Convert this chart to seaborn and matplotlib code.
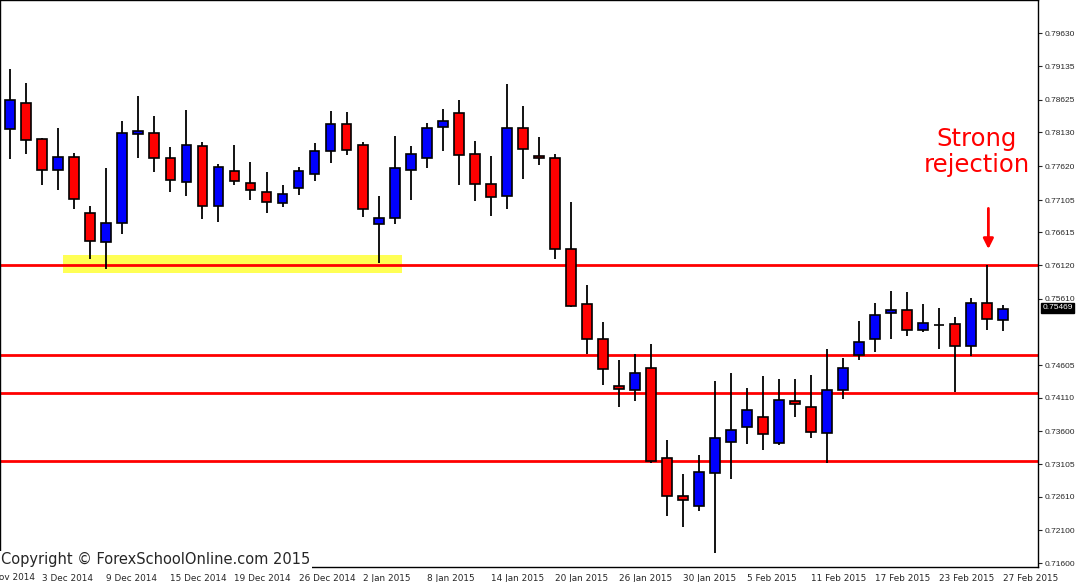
import matplotlib
matplotlib.use("Agg")
import matplotlib.pyplot as plt
import matplotlib.transforms as mtransforms
import seaborn as sns
import numpy as np

opens = [.78180,.78574,.78029,.77559,.77756,.76908,.76468,.76756,.78105,.78120,.77741,.77377,.77923,.77014,.77544,.77362,
         .77226,.77059,.77287,.77499,.77847,.78256,.77938,.76741,.76832,.77559,.77741,.78211,.78423,.77802,.77347,.77165,
         .78196,.77771,.77741,.76362,.75529,.74999,.74287,.74226,.74560,.73196,.72620,.72469,.72969,.73438,.73666,.73817,
         .73423,.74060,.73969,.73575,.74226,.74756,.74999,.75393,.75438,.75135,.75211,.75226,.74893,.75544,.75287]
highs = [.79089,.78877,.78044,.78196,.77817,.77014,.77590,.78302,.78680,.78377,.77908,.78468,.77983,.77650,.77938,.77680,
         .77529,.77332,.77605,.77968,.78453,.78438,.77983,.77165,.78074,.77923,.78271,.78483,.78620,.77999,.77771,.78862,
         .78529,.78059,.77802,.77074,.75817,.75256,.74681,.74772,.74923,.73469,.72954,.73241,.74363,.74484,.74257,.74438,
         .74393,.74393,.74453,.74847,.74711,.75272,.75544,.75726,.75711,.75529,.75469,.75332,.75620,.76120,.75514]
lows = [.77726,.77802,.77332,.77256,.76968,.76211,.76059,.76590,.77741,.77529,.77226,.77165,.76817,.76771,.77332,.77105,
        .76908,.76999,.77181,.77393,.77665,.77787,.76847,.76150,.76741,.77105,.77590,.77847,.77332,.77090,.76862,.76968,
        .77423,.77635,.76211,.75484,.74772,.74302,.73969,.74060,.73120,.72317,.72151,.72393,.71757,.72878,.73408,.73317,
        .73393,.73817,.73499,.73120,.74090,.74681,.74802,.74999,.75044,.75105,.74847,.74196,.74741,.75135,.75120]
closes = [.78620,.78014,.77559,.77756,.77120,.76484,.76756,.78120,.78150,.77741,.77408,.77938,.77014,.77605,.77393,.77256,
          .77074,.77196,.77544,.77847,.78256,.77862,.76968,.76832,.77590,.77802,.78196,.78302,.77787,.77347,.77150,.78196,
          .77877,.77741,.76362,.75499,.74999,.74544,.74241,.74484,.73151,.72620,.72560,.72984,.73499,.73620,.73923,.73560,
          .74075,.74014,.73590,.74226,.74560,.74953,.75362,.75438,.75135,.75241,.75211,.74893,.75544,.75302,.75453]

date_labels = ["3 Dec 2014","9 Dec 2014","15 Dec 2014","19 Dec 2014","26 Dec 2014","2 Jan 2015","8 Jan 2015",
               "14 Jan 2015","20 Jan 2015","26 Jan 2015","30 Jan 2015","5 Feb 2015","11 Feb 2015","17 Feb 2015",
               "23 Feb 2015","27 Feb 2015"]
price_ticks = [0.79630,0.79135,0.78625,0.78130,0.77620,0.77105,0.76615,0.76120,0.75610,0.74605,0.74110,0.73600,
               0.73105,0.72610,0.72100,0.71600]
levels = [0.76120,0.74756,0.74181,0.73151]
zone = (0.75999, 0.76272, 3.31, 24.44)
last_price = 0.75469

sns.set_style("white")
plt.rcParams['font.family'] = ['DejaVu Sans']
fig = plt.figure(figsize=(10.77,5.82), dpi=100)
ax = fig.add_axes([0, 15/582, 1038/1077, 567/582])

n = len(opens)
x = np.arange(n)
o = np.array(opens); c = np.array(closes); h = np.array(highs); l = np.array(lows)
up = c >= o
ax.add_patch(plt.Rectangle((zone[2], zone[0]), zone[3]-zone[2], zone[1]-zone[0], color='#ffff55', zorder=1, lw=0))
for lv in levels:
    ax.axhline(lv, color='red', lw=2, zorder=2)
ax.vlines(x, l, h, color='black', lw=1.3, zorder=3)
bottoms = np.minimum(o, c)
heights = np.maximum(np.abs(c-o), 0.00003)
ax.bar(x, heights, bottom=bottoms, width=0.62, color=np.where(up, '#0000ff', '#ff0000'),
       edgecolor='black', linewidth=1.2, zorder=4)

ax.set_xlim(-0.65, 64.2)
ax.set_ylim(0.71545, 0.80135)
ax.yaxis.tick_right()
ax.set_yticks(price_ticks)
ax.set_yticklabels([f"{v:.5f}" for v in price_ticks], fontsize=6, family='Liberation Sans')
ax.tick_params(axis='y', length=3, pad=2)
ticks = np.arange(2, 2+4*len(date_labels), 4)
ax.set_xticks(ticks)
ax.set_xticklabels(date_labels, fontsize=6.4, ha='left')
ax.tick_params(axis='x', length=3, pad=2)
for s in ax.spines.values():
    s.set_color('black'); s.set_linewidth(1)
ax.text(-2, -0.01, "28 Nov 2014", transform=mtransforms.blended_transform_factory(ax.transData, ax.transAxes),
        fontsize=6.4, ha='left', va='top', clip_on=False)
ax.text(1.004, last_price, f"{last_price:.5f}", transform=mtransforms.blended_transform_factory(ax.transAxes, ax.transData),
        fontsize=6, family='Liberation Sans', color='white', va='center', ha='left',
        bbox=dict(boxstyle='square,pad=0.15', fc='black', ec='black'), clip_on=False)

ax.text(60.35, 0.7783, "Strong\nrejection", color='red', fontsize=17.5, ha='center', va='center', linespacing=1.1)
ax.annotate("", xy=(61.1, 0.7632), xytext=(61.1, 0.7702),
            arrowprops=dict(arrowstyle='-|>', color='red', lw=2, mutation_scale=15))
ax.text(0.001, 0.0125, "Copyright © ForexSchoolOnline.com 2015", transform=ax.transAxes, fontsize=10.5,
        ha='left', va='center', zorder=6, bbox=dict(fc='white', ec='none', pad=1))
fig.savefig("out.png", dpi=100)
